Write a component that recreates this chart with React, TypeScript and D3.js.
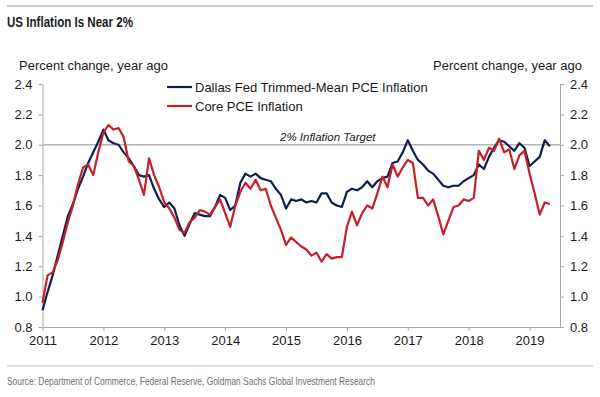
import { useEffect, useRef } from "react";
import * as d3 from "d3";

// monthly, Jan 2011 onward
const trimmedMean = [
  0.91, 1.03, 1.14, 1.27, 1.4, 1.53, 1.61, 1.71, 1.79, 1.88, 1.95, 2.02,
  2.1, 2.03, 2.01, 2.0, 1.95, 1.91, 1.86, 1.8, 1.79, 1.8, 1.71, 1.64,
  1.59, 1.62, 1.58, 1.47, 1.4, 1.48, 1.55, 1.54, 1.53, 1.53, 1.59, 1.67,
  1.65, 1.57, 1.6, 1.75, 1.81, 1.79, 1.81, 1.78, 1.77, 1.76, 1.71, 1.67,
  1.58, 1.64, 1.63, 1.64, 1.62, 1.63, 1.62, 1.68, 1.68, 1.62, 1.6, 1.59,
  1.69, 1.71, 1.7, 1.72, 1.76, 1.72, 1.76, 1.78, 1.79, 1.88, 1.89, 1.95,
  2.03, 1.96, 1.9, 1.87, 1.83, 1.81, 1.77, 1.73, 1.72, 1.73, 1.73, 1.76,
  1.78, 1.8, 1.87, 1.84, 1.92, 1.98, 2.03, 2.02, 1.99, 1.96, 2.01, 1.98,
  1.86, 1.89, 1.92, 2.03, 1.99,
];

const corePce = [
  0.96, 1.14, 1.16, 1.24, 1.36, 1.49, 1.6, 1.74, 1.85, 1.87, 1.8, 1.95,
  2.08, 2.13, 2.1, 2.11, 2.05, 1.89, 1.86, 1.77, 1.67, 1.91, 1.8, 1.72,
  1.62, 1.58, 1.52, 1.44, 1.42, 1.49, 1.52, 1.57, 1.56, 1.54, 1.59, 1.64,
  1.55, 1.46, 1.6, 1.69, 1.75, 1.71, 1.77, 1.7, 1.71, 1.6, 1.52, 1.44,
  1.34, 1.39, 1.36, 1.33, 1.31, 1.27, 1.29, 1.23, 1.28, 1.25, 1.26, 1.26,
  1.46, 1.56, 1.47, 1.55, 1.6, 1.58, 1.68, 1.79, 1.72, 1.87, 1.79, 1.85,
  1.9, 1.88, 1.65, 1.65, 1.6, 1.64, 1.53, 1.41, 1.5, 1.59, 1.6, 1.64,
  1.63, 1.65, 1.96, 1.9, 1.98, 1.96, 2.04, 1.95, 1.97, 1.84, 1.93, 1.96,
  1.81, 1.68, 1.54, 1.62, 1.61,
];

const years = [2011, 2012, 2013, 2014, 2015, 2016, 2017, 2018, 2019];
const yTicks = [0.8, 1.0, 1.2, 1.4, 1.6, 1.8, 2.0, 2.2, 2.4];
const target = 2.0;

const NAVY = "#0d1f4d";
const RED = "#c41f2b";
const GRAY = "#a6a6a6";
const FONT = "Liberation Sans, Arial, sans-serif";
const NARROW = "Liberation Sans Narrow, Arial Narrow, Liberation Sans, sans-serif";

export default function App() {
  const ref = useRef<SVGSVGElement | null>(null);

  useEffect(() => {
    document.body.style.margin = "0";
    if (!ref.current) return;
    const svg = d3.select(ref.current);
    svg.selectAll("*").remove();

    const left = 42.5,
      right = 560,
      top = 84,
      bottom = 327;

    const x = d3.scaleLinear().domain([2011, 2019.5]).range([left, right]);
    const y = d3.scaleLinear().domain([0.8, 2.4]).range([bottom, top]);

    // rules + title + source
    svg.append("line").attr("x1", 7).attr("x2", 593).attr("y1", 6).attr("y2", 6)
      .attr("stroke", "#bdbdbd").attr("stroke-width", 1.5);
    svg.append("text").attr("x", 7).attr("y", 27).text("US Inflation Is Near 2%")
      .attr("font-family", NARROW).attr("font-weight", "bold").attr("font-size", 14.5)
      .attr("fill", "#1a1a1a").attr("textLength", 126).attr("lengthAdjust", "spacingAndGlyphs");
    svg.append("line").attr("x1", 7).attr("x2", 593).attr("y1", 366).attr("y2", 366)
      .attr("stroke", "#bdbdbd").attr("stroke-width", 1.2);
    svg.append("text").attr("x", 7).attr("y", 385)
      .text("Source: Department of Commerce, Federal Reserve, Goldman Sachs Global Investment Research")
      .attr("font-family", NARROW).attr("font-size", 10.5).attr("fill", "#6e6e6e")
      .attr("textLength", 368).attr("lengthAdjust", "spacingAndGlyphs");

    // axis captions
    svg.append("text").attr("x", 19).attr("y", 70).text("Percent change, year ago")
      .attr("font-family", FONT).attr("font-size", 13).attr("fill", "#1a1a1a");
    svg.append("text").attr("x", 582).attr("y", 70).attr("text-anchor", "end")
      .text("Percent change, year ago")
      .attr("font-family", FONT).attr("font-size", 13).attr("fill", "#1a1a1a");

    const styleAxis = (g: any) => {
      g.selectAll("path,line").attr("stroke", GRAY);
      g.selectAll("text").attr("font-family", FONT).attr("font-size", 13).attr("fill", "#1a1a1a");
    };

    svg.append("g").attr("transform", `translate(${left},0)`)
      .call(d3.axisLeft(y).tickValues(yTicks).tickFormat(d3.format(".1f")).tickSize(4).tickSizeOuter(0).tickPadding(6))
      .call(styleAxis);
    svg.append("g").attr("transform", `translate(${right},0)`)
      .call(d3.axisRight(y).tickValues(yTicks).tickFormat(d3.format(".1f")).tickSize(4).tickSizeOuter(0).tickPadding(6))
      .call(styleAxis);
    svg.append("g").attr("transform", `translate(0,${bottom})`)
      .call(d3.axisBottom(x).tickValues(years).tickFormat(d3.format("d")).tickSize(4).tickSizeOuter(0).tickPadding(5))
      .call(styleAxis);

    // 2% target
    svg.append("line").attr("x1", left).attr("x2", right)
      .attr("y1", y(target)).attr("y2", y(target))
      .attr("stroke", "#b3b3b3").attr("stroke-width", 1.6);
    svg.append("text").attr("x", 280).attr("y", y(target) - 4).text("2% Inflation Target")
      .attr("font-family", FONT).attr("font-style", "italic").attr("font-size", 11.5).attr("fill", "#1a1a1a");

    const line = d3.line<number>()
      .x((_, i) => x(2011 + i / 12))
      .y((d) => y(d));

    svg.append("path").datum(trimmedMean).attr("d", line).attr("fill", "none")
      .attr("stroke", NAVY).attr("stroke-width", 2.2).attr("stroke-linejoin", "round");
    svg.append("path").datum(corePce).attr("d", line).attr("fill", "none")
      .attr("stroke", RED).attr("stroke-width", 2.2).attr("stroke-linejoin", "round");

    // legend
    const legend = [
      { label: "Dallas Fed Trimmed-Mean PCE Inflation", color: NAVY },
      { label: "Core PCE Inflation", color: RED },
    ];
    legend.forEach((d, i) => {
      const ly = 87 + i * 19;
      svg.append("line").attr("x1", 167).attr("x2", 192).attr("y1", ly).attr("y2", ly)
        .attr("stroke", d.color).attr("stroke-width", 2.2);
      svg.append("text").attr("x", 195).attr("y", ly + 4.5).text(d.label)
        .attr("font-family", FONT).attr("font-size", 13).attr("fill", "#1a1a1a");
    });
  }, []);

  return <svg ref={ref} width={600} height={397} style={{ display: "block", background: "#fff" }} />;
}
